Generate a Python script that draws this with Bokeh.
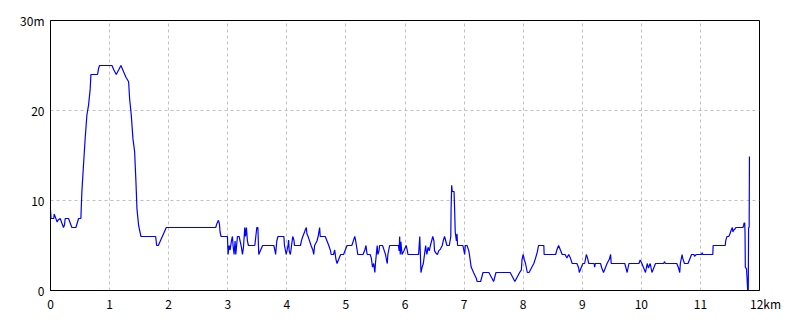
from bokeh.plotting import figure
from bokeh.models import Range1d, FixedTicker
from bokeh.embed import file_html
from bokeh.resources import INLINE

# distance along track (km) and depth (m)
dist_km = [
    0.00, 0.01, 0.056, 0.062, 0.113, 0.124, 0.164, 0.22, 0.237, 0.249, 0.305, 0.362, 0.43, 0.475,
    0.514, 0.531, 0.559, 0.588, 0.616, 0.644, 0.672, 0.684, 0.797, 0.814, 0.831, 1.04, 1.073,
    1.113, 1.153, 1.192, 1.237, 1.277, 1.322, 1.339, 1.367, 1.395, 1.424, 1.446, 1.463, 1.492,
    1.531, 1.78, 1.797, 1.825, 1.96, 2.797, 2.814, 2.842, 2.859, 2.87, 2.887, 2.995,
    3.006, 3.023, 3.04, 3.062, 3.079, 3.09, 3.107, 3.124, 3.136, 3.164, 3.192, 3.209, 3.232,
    3.249, 3.266, 3.288, 3.30, 3.316, 3.333, 3.35, 3.458, 3.475, 3.492, 3.51, 3.525, 3.55,
    3.59, 3.78, 3.80, 3.81, 3.83, 3.85, 3.95, 3.96, 3.99, 4.02, 4.03, 4.04, 4.06, 4.08, 4.10,
    4.12, 4.13, 4.23, 4.25, 4.27, 4.30, 4.31, 4.33, 4.34, 4.36, 4.38, 4.41, 4.44, 4.455, 4.47,
    4.51, 4.53, 4.555, 4.565, 4.65, 4.68, 4.71, 4.74, 4.75, 4.79, 4.81, 4.83, 4.85, 4.88, 4.91,
    4.96, 4.99, 5.02, 5.10, 5.13, 5.15, 5.16, 5.19, 5.20, 5.29, 5.32, 5.34, 5.35, 5.36, 5.41,
    5.43, 5.45, 5.47, 5.49, 5.50, 5.52, 5.53, 5.54, 5.56, 5.57, 5.62, 5.65, 5.67, 5.69, 5.70,
    5.71, 5.74, 5.89, 5.90, 5.91, 5.92, 5.93, 5.95, 5.98, 6.02, 6.04, 6.05, 6.23, 6.25, 6.27,
    6.29, 6.31, 6.33, 6.35, 6.36, 6.37, 6.39, 6.41, 6.43, 6.45, 6.47, 6.49, 6.50, 6.53, 6.55,
    6.57, 6.60, 6.63, 6.65, 6.67, 6.69, 6.71, 6.75, 6.775, 6.78, 6.79, 6.80, 6.83, 6.84, 6.85,
    6.86, 6.87, 6.88, 6.89, 6.98, 7.01, 7.02, 7.05, 7.08, 7.09, 7.12, 7.16, 7.21, 7.22, 7.28,
    7.32, 7.42, 7.46, 7.50, 7.54, 7.78, 7.82, 7.86, 7.90, 7.94, 7.97, 7.98, 8.00, 8.02, 8.04,
    8.07, 8.10, 8.14, 8.18, 8.21, 8.24, 8.26, 8.35, 8.355, 8.55, 8.57, 8.60, 8.63, 8.66, 8.71,
    8.74, 8.77, 8.80, 8.83, 8.91, 8.94, 8.95, 8.98, 9.01, 9.04, 9.07, 9.09, 9.11, 9.20, 9.21,
    9.22, 9.31, 9.33, 9.36, 9.39, 9.42, 9.46, 9.48, 9.49, 9.72, 9.74, 9.76, 9.79, 9.96, 9.98,
    10.01, 10.04, 10.07, 10.10, 10.12, 10.15, 10.18, 10.21, 10.24, 10.38, 10.39, 10.41, 10.60,
    10.63, 10.65, 10.66, 10.69, 10.70, 10.73, 10.79, 10.82, 10.85, 10.89, 10.90, 10.93, 11.02,
    11.03, 11.04, 11.21, 11.215, 11.42, 11.43, 11.45, 11.48, 11.50, 11.52, 11.54, 11.55, 11.56,
    11.58, 11.60, 11.72, 11.73, 11.74, 11.75, 11.755, 11.76, 11.78, 11.79, 11.80, 11.81,
    11.815, 11.825, 11.83,
]
depth_m = [
    9.0, 8.0, 8.0, 8.5, 7.6, 7.8, 8.0, 7.0, 7.3, 8.0, 8.0, 7.0, 7.0, 8.0,
    8.0, 11.0, 14.0, 17.0, 19.5, 20.6, 22.4, 24.0, 24.0, 24.7, 25.0, 25.0, 24.5,
    24.0, 24.5, 25.0, 24.3, 23.7, 23.2, 21.3, 19.5, 16.9, 15.4, 12.1, 9.1, 7.2,
    6.0, 6.0, 5.0, 5.0, 7.0, 7.0, 7.4, 7.8, 7.4, 6.5, 6.0, 6.0,
    4.0, 5.0, 4.5, 5.5, 6.0, 5.0, 4.0, 5.5, 4.0, 6.0, 6.0, 5.5, 4.8,
    4.0, 4.8, 7.0, 6.0, 7.0, 5.5, 5.0, 5.0, 6.0, 7.0, 7.0, 4.0, 4.4,
    5.0, 5.0, 4.4, 4.0, 5.5, 6.0, 6.0, 5.0, 4.0, 5.0, 5.6, 4.4, 4.0, 5.0, 6.0,
    5.6, 5.0, 5.0, 5.6, 6.0, 6.5, 6.7, 7.0, 6.3, 6.0, 5.6, 5.0, 4.5, 4.0, 5.0,
    5.5, 6.0, 7.0, 6.0, 6.0, 5.5, 5.0, 4.4, 4.0, 4.0, 4.5, 3.5, 3.0, 3.5, 4.0,
    4.0, 4.5, 5.0, 5.0, 5.6, 6.0, 5.7, 4.5, 4.0, 4.0, 4.5, 5.0, 4.4, 4.0, 4.0,
    3.6, 2.6, 3.0, 2.0, 3.0, 4.4, 5.0, 4.0, 4.4, 5.0, 5.0, 4.4, 4.0, 3.3, 3.0,
    4.0, 5.0, 5.0, 4.4, 6.0, 4.0, 5.4, 4.0, 4.4, 5.0, 4.4, 4.0, 4.0, 6.0, 2.0,
    2.6, 3.0, 4.0, 5.0, 4.4, 4.0, 4.8, 4.4, 5.0, 5.5, 6.0, 5.5, 4.4, 4.1, 4.0,
    4.4, 4.6, 5.0, 5.6, 6.0, 5.5, 5.0, 5.0, 6.0, 9.0, 11.7, 11.0, 11.0, 9.0, 6.5,
    6.0, 5.5, 6.3, 5.0, 5.0, 4.0, 5.0, 5.0, 4.4, 4.0, 2.6, 2.0, 1.3, 1.0, 1.0,
    2.0, 2.0, 1.5, 1.0, 2.0, 2.0, 1.5, 1.0, 1.5, 2.0, 2.3, 3.4, 4.0, 3.4, 3.0,
    2.0, 2.0, 2.5, 3.0, 3.6, 4.3, 5.0, 5.0, 4.0, 4.0, 4.5, 5.0, 4.5, 4.0, 4.0,
    3.6, 4.0, 3.6, 3.0, 3.0, 2.5, 2.0, 2.5, 3.0, 3.0, 4.0, 3.6, 3.0, 3.0, 2.6,
    3.0, 3.0, 2.5, 2.0, 2.5, 3.0, 3.5, 4.0, 3.0, 3.0, 2.5, 2.0, 3.0, 3.0, 3.4,
    3.0, 2.5, 2.0, 3.0, 2.5, 3.0, 2.0, 2.5, 3.0, 3.0, 3.2, 3.0, 3.0,
    2.5, 2.0, 3.0, 4.0, 3.6, 3.0, 3.0, 3.5, 4.0, 4.0, 3.8, 4.0, 4.0,
    4.2, 4.0, 4.0, 5.0, 5.0, 5.6, 6.0, 6.0, 6.3, 6.7, 7.0, 6.5, 6.7,
    6.8, 7.0, 7.0, 7.2, 7.5, 7.5, 6.5, 2.6, 2.4, 1.3, 0.0, 0.0,
    7.0, 7.0, 14.9,
]

x_ticks = list(range(0, 13))
y_ticks = [0, 10, 20, 30]
x_tick_labels = {i: str(i) for i in x_ticks}
x_tick_labels[12] = "\u300012km"   # leading ideographic space keeps "12" under its tick
y_tick_labels = {0: "0", 10: "10", 20: "20", 30: "30m"}

FONT = "Noto Sans CJK JP"

p = figure(width=800, height=320, output_backend="svg", toolbar_location=None,
           x_range=Range1d(0, 12), y_range=Range1d(0, 30),
           min_border_left=50, min_border_right=41, min_border_top=20, min_border_bottom=30)
p.background_fill_color = "white"
p.border_fill_color = "white"
p.outline_line_color = "black"
p.outline_line_width = 1

for ax in (p.xaxis[0], p.yaxis[0]):
    ax.axis_line_color = "black"
    ax.axis_line_width = 1
    ax.major_tick_line_color = None
    ax.minor_tick_line_color = None
    ax.major_tick_out = 0
    ax.major_tick_in = 0
    ax.major_label_text_font = FONT
    ax.major_label_text_font_size = "12px"
    ax.major_label_text_color = "black"

p.xaxis[0].ticker = FixedTicker(ticks=x_ticks)
p.yaxis[0].ticker = FixedTicker(ticks=y_ticks)
p.xaxis[0].major_label_overrides = x_tick_labels
p.yaxis[0].major_label_overrides = y_tick_labels
p.xaxis[0].major_label_standoff = 4
p.yaxis[0].major_label_standoff = 6

for g in (p.xgrid[0], p.ygrid[0]):
    g.grid_line_color = "#c0c0c0"
    g.grid_line_dash = "3 3"
    g.grid_line_width = 1
p.xgrid[0].ticker = FixedTicker(ticks=x_ticks)
p.ygrid[0].ticker = FixedTicker(ticks=y_ticks)

p.line(dist_km, depth_m, line_color="#0000ff", line_width=1.2)

open("out.html", "w").write(file_html(p, INLINE))
